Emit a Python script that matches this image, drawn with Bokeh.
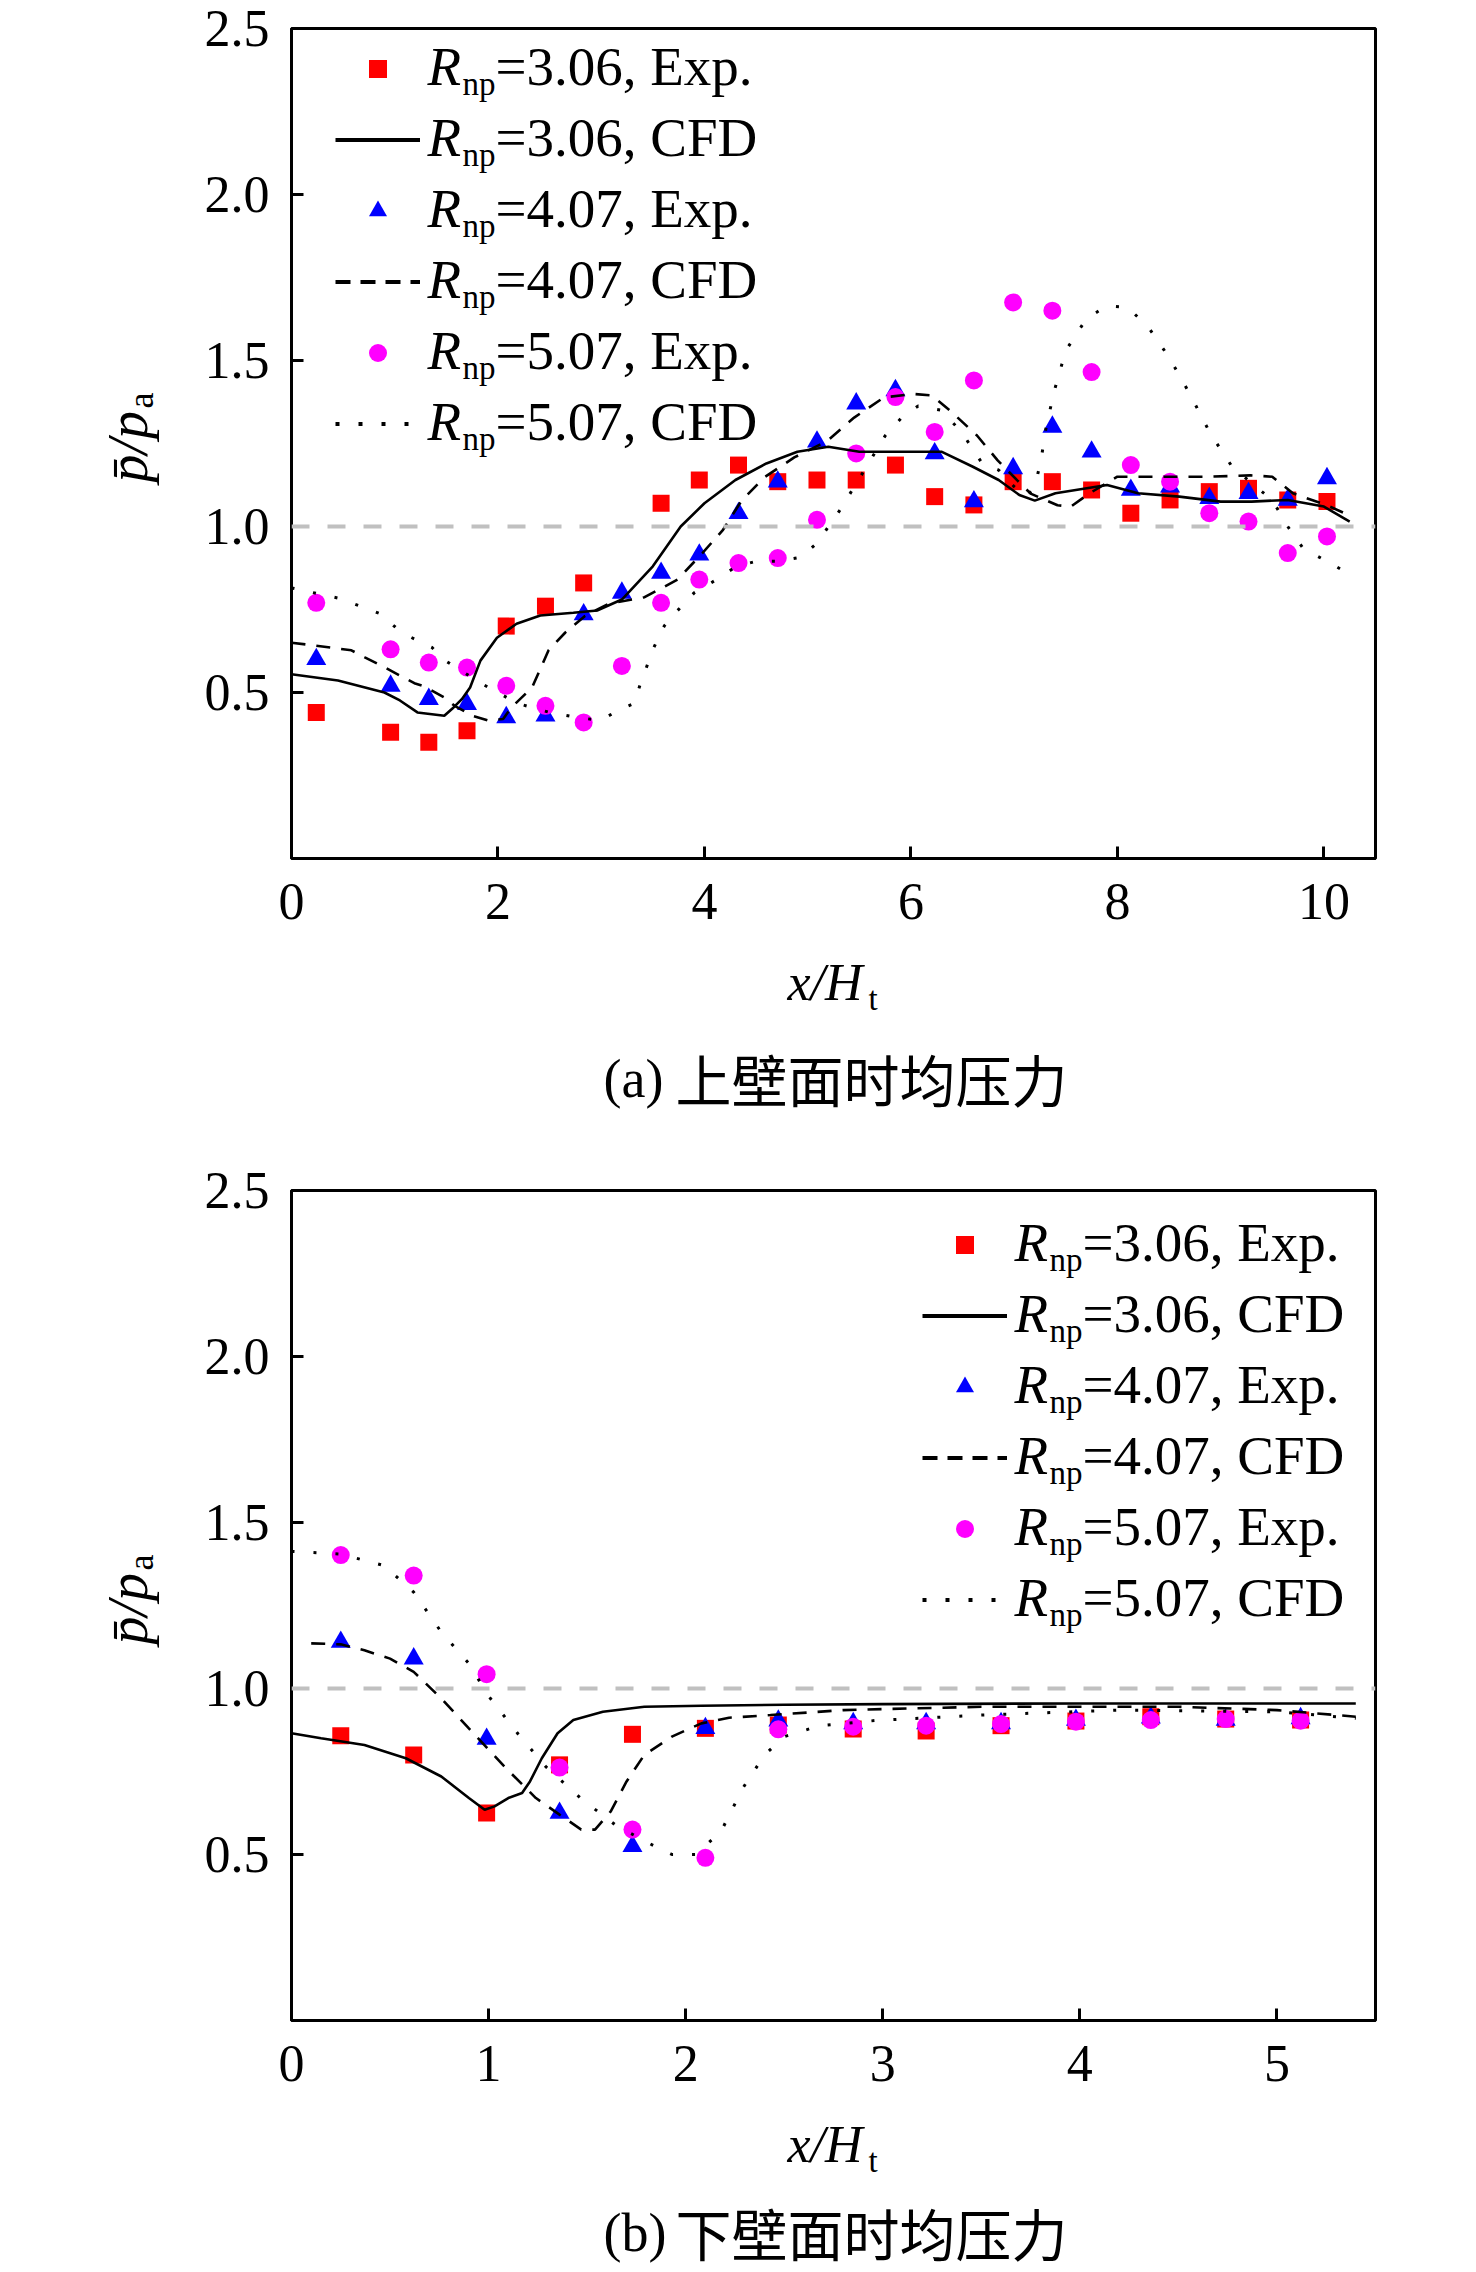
import math
from bokeh.plotting import figure
from bokeh.models import (Range1d, FixedTicker, Label, Legend, LegendItem, Span,
                          ColumnDataSource, CustomJSTickFormatter)
from bokeh.layouts import column, row
from bokeh.embed import file_html
from bokeh.resources import INLINE

# ---------------- data: (a) upper wall ----------------
top_x_ticks = [0, 2, 4, 6, 8, 10]
top_y_ticks = [0.5, 1.0, 1.5, 2.0, 2.5]

top_red_x = [0.24, 0.96, 1.33, 1.70, 2.08, 2.46, 2.83, 3.58, 3.95, 4.33, 4.71, 5.09, 5.47,
             5.85, 6.23, 6.61, 6.99, 7.37, 7.75, 8.13, 8.51, 8.89, 9.27, 9.65, 10.03]
top_red_y = [0.44, 0.38, 0.35, 0.385, 0.70, 0.76, 0.83, 1.07, 1.14, 1.185, 1.135, 1.14, 1.14,
             1.185, 1.09, 1.065, 1.135, 1.135, 1.11, 1.04, 1.08, 1.105, 1.115, 1.08, 1.075]

top_exp_x = [0.24, 0.96, 1.33, 1.70, 2.08, 2.46, 2.83, 3.20, 3.58, 3.95, 4.33, 4.71, 5.09,
             5.47, 5.85, 6.23, 6.61, 6.99, 7.37, 7.75, 8.13, 8.51, 8.89, 9.27, 9.65, 10.03]
top_blue_y = [0.60, 0.52, 0.48, 0.465, 0.425, 0.43, 0.735, 0.80, 0.86, 0.915, 1.04, 1.135, 1.255,
              1.37, 1.41, 1.22, 1.075, 1.175, 1.30, 1.225, 1.11, 1.12, 1.085, 1.10, 1.08, 1.145]
top_mag_y = [0.77, 0.63, 0.59, 0.575, 0.52, 0.46, 0.41, 0.58, 0.77, 0.84, 0.89, 0.905, 1.02,
             1.22, 1.39, 1.285, 1.44, 1.675, 1.65, 1.465, 1.185, 1.135, 1.04, 1.015, 0.92, 0.97]

top_cfd1_x = [0, 0.45, 0.9, 1.05, 1.22, 1.48, 1.57, 1.65, 1.73, 1.83, 1.99, 2.18, 2.41, 2.73,
              2.96, 3.2, 3.5, 3.77, 4.0, 4.3, 4.6, 4.9, 5.2, 5.5, 6.0, 6.3, 6.6, 6.85, 7.05,
              7.2, 7.4, 7.9, 8.2, 8.6, 9.0, 9.3, 9.65, 10.0, 10.25]
top_cfd1_y = [0.555, 0.536, 0.50, 0.476, 0.44, 0.43, 0.455, 0.48, 0.515, 0.596, 0.665, 0.707,
              0.732, 0.74, 0.747, 0.78, 0.88, 1.0, 1.07, 1.14, 1.19, 1.225, 1.24, 1.225, 1.225,
              1.225, 1.18, 1.14, 1.095, 1.078, 1.10, 1.125, 1.10, 1.09, 1.075, 1.075, 1.08,
              1.06, 1.015]

top_cfd2_x = [0, 0.24, 0.58, 0.71, 0.9, 1.19, 1.29, 1.48, 1.58, 1.75, 1.9, 2.05, 2.13, 2.33,
              2.49, 2.65, 2.84, 3.07, 3.42, 3.74, 3.98, 4.18, 4.36, 4.58, 4.87, 5.19, 5.45,
              5.74, 6.03, 6.2, 6.38, 6.64, 6.84, 7.03, 7.16, 7.42, 7.55, 7.73, 8.0, 8.47,
              8.88, 9.29, 9.5, 9.7, 10.03, 10.2]
top_cfd2_y = [0.65, 0.641, 0.627, 0.606, 0.576, 0.528, 0.518, 0.485, 0.46, 0.43, 0.416, 0.42,
              0.455, 0.515, 0.627, 0.68, 0.73, 0.767, 0.787, 0.84, 0.92, 0.99, 1.078, 1.148,
              1.208, 1.258, 1.328, 1.389, 1.399, 1.395, 1.349, 1.274, 1.199, 1.139, 1.099,
              1.064, 1.06, 1.10, 1.15, 1.15, 1.15, 1.154, 1.15, 1.10, 1.064, 1.04]

top_cfd3_x = [0, 0.47, 0.65, 0.86, 1.02, 1.16, 1.36, 1.49, 1.84, 2.19, 2.5, 2.76, 2.99, 3.19,
              3.32, 3.38, 3.51, 3.61, 3.74, 3.9, 4.1, 4.31, 4.5, 4.7, 4.93, 5.09, 5.32, 5.55,
              5.75, 5.91, 6.07, 6.3, 6.5, 6.69, 6.85, 7.0, 7.12, 7.2, 7.26, 7.31, 7.39, 7.5,
              7.7, 7.9, 8.1, 8.3, 8.5, 8.7, 8.9, 9.1, 9.3, 9.5, 9.65, 9.8, 10.0, 10.2]
top_cfd3_y = [0.815, 0.783, 0.762, 0.737, 0.693, 0.666, 0.636, 0.596, 0.527, 0.467, 0.44,
              0.425, 0.416, 0.45, 0.467, 0.527, 0.636, 0.70, 0.747, 0.80, 0.837, 0.88, 0.895,
              0.895, 0.907, 0.95, 1.053, 1.17, 1.273, 1.328, 1.363, 1.35, 1.28, 1.19, 1.17,
              1.12, 1.09, 1.12, 1.20, 1.30, 1.41, 1.53, 1.626, 1.665, 1.66, 1.60, 1.51, 1.40,
              1.28, 1.185, 1.13, 1.08, 1.00, 0.934, 0.90, 0.865]

# ---------------- data: (b) lower wall ----------------
bot_x_ticks = [0, 1, 2, 3, 4, 5]
bot_y_ticks = [0.5, 1.0, 1.5, 2.0, 2.5]

bot_exp_x = [0.25, 0.62, 0.99, 1.36, 1.73, 2.10, 2.47, 2.85, 3.22, 3.60, 3.98, 4.36, 4.74, 5.12]
bot_red_y = [0.858, 0.80, 0.625, 0.77, 0.862, 0.88, 0.89, 0.878, 0.872, 0.888, 0.902, 0.915,
             0.908, 0.905]
bot_blue_y = [1.14, 1.09, 0.848, 0.625, 0.525, 0.88, 0.903, 0.895, 0.895, 0.895, 0.905, 0.912,
              0.905, 0.91]
bot_mag_y = [1.402, 1.34, 1.043, 0.762, 0.575, 0.49, 0.877, 0.885, 0.888, 0.893, 0.90, 0.905,
             0.908, 0.903]

bot_cfd1_x = [0, 0.15, 0.37, 0.58, 0.76, 0.90, 0.98, 1.03, 1.10, 1.17, 1.21, 1.27, 1.35, 1.43,
              1.58, 1.79, 2.08, 2.5, 3.0, 4.0, 5.0, 5.4]
bot_cfd1_y = [0.865, 0.85, 0.83, 0.79, 0.735, 0.67, 0.635, 0.645, 0.67, 0.685, 0.72, 0.79,
              0.865, 0.905, 0.93, 0.945, 0.948, 0.951, 0.953, 0.955, 0.955, 0.955]

bot_cfd2_x = [0.10, 0.25, 0.37, 0.5, 0.62, 0.76, 0.90, 1.08, 1.24, 1.36, 1.47, 1.54, 1.62,
              1.70, 1.79, 1.93, 2.08, 2.22, 2.43, 2.8, 3.5, 4.5, 5.0, 5.4]
bot_cfd2_y = [1.136, 1.133, 1.115, 1.09, 1.05, 0.97, 0.88, 0.765, 0.67, 0.62, 0.575, 0.575,
              0.63, 0.72, 0.80, 0.855, 0.895, 0.912, 0.92, 0.935, 0.945, 0.945, 0.935, 0.915]

bot_cfd3_x = [0, 0.25, 0.47, 0.62, 0.76, 0.90, 1.0, 1.15, 1.29, 1.47, 1.65, 1.83, 1.93, 2.05,
              2.18, 2.29, 2.40, 2.50, 2.68, 2.97, 3.5, 4.2, 5.0, 5.4]
bot_cfd3_y = [1.413, 1.405, 1.37, 1.29, 1.17, 1.075, 0.977, 0.863, 0.765, 0.668, 0.586, 0.529,
              0.50, 0.50, 0.57, 0.70, 0.80, 0.855, 0.888, 0.904, 0.92, 0.935, 0.93, 0.91]

legend_values = ["3.06", "3.06", "4.07", "4.07", "5.07", "5.07"]
legend_kinds = ["Exp.", "CFD", "Exp.", "CFD", "Exp.", "CFD"]

SERIF = "Liberation Serif"
CJK = "Noto Sans CJK SC"
RED, BLUE, MAG = "#ff0000", "#0000ff", "#ff00ff"

PAGE_W = 1476
YL_W = 180                 # strip holding the rotated y label
FRAME_LEFT = 291           # page x of frame left
FRAME_W = 1084
FRAME_H = 830
BOTTOM_B = 90
MID = {SERIF: 0.34, CJK: 0.40}
VSHIFT = 87                # empirical correction for rotated labels


def text_at(p, fl, fb, px, base_py, text, size, font=SERIF, style="normal"):
    """Place text so that its baseline sits at page y base_py (fl/fb: frame left/bottom)."""
    ay = base_py - MID[font] * size
    p.add_layout(Label(x=px - fl, y=fb - ay, x_units="screen", y_units="screen",
                       text=text, text_font=font, text_font_size=f"{size}px",
                       text_font_style=style, text_color="black", text_align="left",
                       text_baseline="middle"))


def vtext_at(p, fl, fb, base_px, start_py, text, size, style="normal"):
    """Rotated (bottom-to-top) text: baseline at page x base_px, starting at page y start_py."""
    ax = base_px - MID[SERIF] * size
    p.add_layout(Label(x=ax - fl, y=fb - (start_py + VSHIFT), x_units="screen", y_units="screen",
                       text=text, text_font=SERIF, text_font_size=f"{size}px",
                       text_font_style=style, text_color="black", text_align="left",
                       text_baseline="middle", angle=math.pi / 2))


def blank_fig(w, h):
    f = figure(width=w, height=h, x_range=Range1d(0, w), y_range=Range1d(0, h),
               output_backend="svg", toolbar_location=None,
               x_axis_location=None, y_axis_location=None, min_border=0)
    f.grid.visible = False
    f.outline_line_color = None
    return f


def nan_src():
    return ColumnDataSource(dict(x=[float("nan")], y=[float("nan")]))


def make_plot(page_top, top_border, xmax, xticks, yticks, exp_red, exp_blue, exp_mag, cfd,
              leg_line_x, leg_row0):
    height = top_border + FRAME_H + BOTTOM_B
    w = PAGE_W - YL_W
    fl = FRAME_LEFT
    fb = page_top + top_border + FRAME_H
    p = figure(width=w, height=height, x_range=Range1d(0, xmax), y_range=Range1d(0, 2.5),
               output_backend="svg", toolbar_location=None,
               min_border_left=FRAME_LEFT - YL_W, min_border_right=w - (FRAME_LEFT - YL_W) - FRAME_W,
               min_border_top=top_border, min_border_bottom=BOTTOM_B)
    p.grid.visible = False
    p.outline_line_color = "black"
    p.outline_line_width = 3
    p.outline_line_alpha = 1.0
    p.xaxis.ticker = FixedTicker(ticks=xticks)
    p.yaxis.ticker = FixedTicker(ticks=yticks)
    p.yaxis.formatter = CustomJSTickFormatter(code="return tick.toFixed(1)")
    for ax in (p.xaxis[0], p.yaxis[0]):
        ax.axis_line_width = 3
        ax.axis_line_color = "black"
        ax.major_tick_line_width = 3
        ax.major_tick_line_color = "black"
        ax.major_tick_in = 12
        ax.major_tick_out = 0
        ax.minor_tick_line_color = None
        ax.major_label_text_font = SERIF
        ax.major_label_text_font_size = "52px"
        ax.major_label_text_color = "black"
    p.xaxis.major_label_standoff = 25
    p.yaxis.major_label_standoff = 22

    p.add_layout(Span(location=1.0, dimension="width", line_color="#c0c0c0",
                      line_width=4, line_dash="18 18"))

    (xr, yr), (xb, yb), (xm, ym) = exp_red, exp_blue, exp_mag
    p.scatter(xr, yr, marker="square", size=17, fill_color=RED, line_color=None)
    p.scatter(xb, yb, marker="triangle", size=20, fill_color=BLUE, line_color=None)
    p.scatter(xm, ym, marker="circle", size=18, fill_color=MAG, line_color=None)

    (c1x, c1y), (c2x, c2y), (c3x, c3y) = cfd
    p.line(c1x, c1y, line_color="black", line_width=2.6)
    p.line(c2x, c2y, line_color="black", line_width=2.6, line_dash="14 11")
    p.line(c3x, c3y, line_color="black", line_width=3, line_dash="3 19")

    # legend samples: renderers with a single NaN point, used only by the legend
    s1 = p.scatter("x", "y", source=nan_src(), marker="square", size=18, fill_color=RED, line_color=None)
    l1 = p.line("x", "y", source=nan_src(), line_color="black", line_width=4)
    s2 = p.scatter("x", "y", source=nan_src(), marker="triangle", size=18, fill_color=BLUE, line_color=None)
    l2 = p.line("x", "y", source=nan_src(), line_color="black", line_width=4, line_dash="15 10")
    s3 = p.scatter("x", "y", source=nan_src(), marker="circle", size=18, fill_color=MAG, line_color=None)
    l3 = p.line("x", "y", source=nan_src(), line_color="black", line_width=4, line_dash="4 19")
    rends = [s1, l1, s2, l2, s3, l3]
    gh, sp = 45, 26
    leg_h = 6 * gh + 5 * sp
    top_rel = (leg_row0 - gh / 2) - (page_top + top_border)
    leg = Legend(items=[LegendItem(label=" ", renderers=[r]) for r in rends],
                 location=(leg_line_x - fl, FRAME_H - top_rel - leg_h),
                 orientation="vertical", glyph_width=85, glyph_height=gh,
                 label_height=gh, label_width=1, label_standoff=0, padding=0, margin=0,
                 spacing=sp, border_line_color=None, background_fill_alpha=0,
                 label_text_font_size="1px", label_text_alpha=0)
    p.add_layout(leg)

    tx = leg_line_x + 92
    for i, (v, k) in enumerate(zip(legend_values, legend_kinds)):
        base = leg_row0 + (gh + sp) * i + 17
        text_at(p, fl, fb, tx, base, "R", 55, style="italic")
        text_at(p, fl, fb, tx + 35, base + 10, "np", 33)
        text_at(p, fl, fb, tx + 68, base, f"={v}, {k}", 55)
    return p, height


def make_caption(height, page_top, frame_bottom, tag, cjk, cap_base):
    f = blank_fig(PAGE_W, height)
    fb = page_top + height
    text_at(f, 0, fb, 787, frame_bottom + 142, "x/H", 52, style="italic")
    text_at(f, 0, fb, 868, frame_bottom + 152, "t", 33)
    text_at(f, 0, fb, 603, cap_base - 2, tag, 54)
    text_at(f, 0, fb, 675, cap_base, cjk, 56, font=CJK)
    return f


# ----- panel (a) -----
p1, h1 = make_plot(0, 28, 10.5, top_x_ticks, top_y_ticks,
                   (top_red_x, top_red_y), (top_exp_x, top_blue_y), (top_exp_x, top_mag_y),
                   ((top_cfd1_x, top_cfd1_y), (top_cfd2_x, top_cfd2_y), (top_cfd3_x, top_cfd3_y)),
                   335, 68)
y1 = blank_fig(YL_W, h1)
vtext_at(y1, 0, h1, 147, 485, "p\u0304/p", 56, style="italic")
vtext_at(y1, 0, h1, 153, 485 - 74, "a", 36)
cap1_top = h1
cap1_h = 1158 - h1
c1 = make_caption(cap1_h, cap1_top, 858, "(a)", "上壁面时均压力", 1099)

# ----- panel (b) -----
p2_top = 1158
p2, h2 = make_plot(p2_top, 32, 5.5, bot_x_ticks, bot_y_ticks,
                   (bot_exp_x, bot_red_y), (bot_exp_x, bot_blue_y), (bot_exp_x, bot_mag_y),
                   ((bot_cfd1_x, bot_cfd1_y), (bot_cfd2_x, bot_cfd2_y), (bot_cfd3_x, bot_cfd3_y)),
                   922, 1244)
y2 = blank_fig(YL_W, h2)
vtext_at(y2, 0, p2_top + h2, 147, 1647, "p\u0304/p", 56, style="italic")
vtext_at(y2, 0, p2_top + h2, 153, 1647 - 74, "a", 36)
cap2_top = p2_top + h2
cap2_h = 2272 - cap2_top
c2 = make_caption(cap2_h, cap2_top, 2020, "(b)", "下壁面时均压力", 2253)

layout = column(row(y1, p1, spacing=0), c1, row(y2, p2, spacing=0), c2, spacing=0)
open("out.html", "w").write(file_html(layout, INLINE))
